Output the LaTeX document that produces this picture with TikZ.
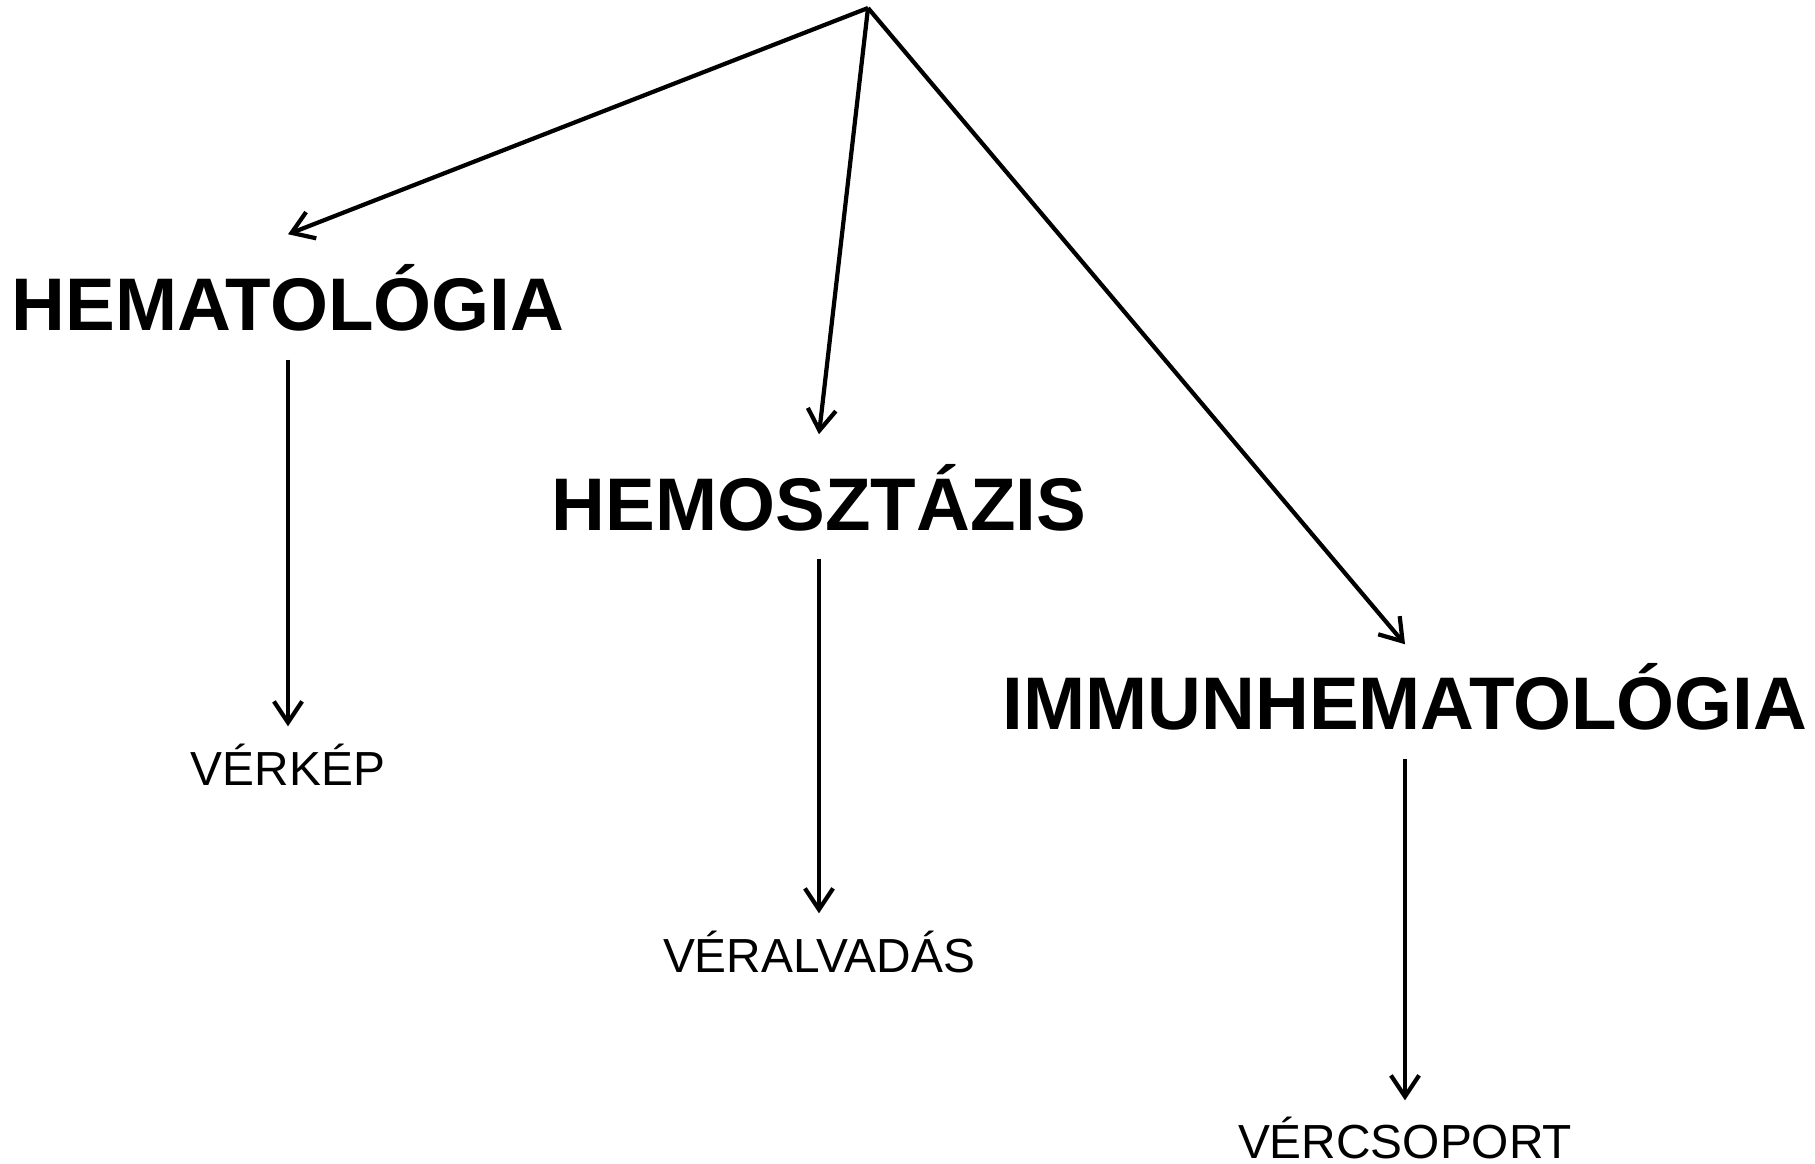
\documentclass[tikz,border=0pt]{standalone}
\usepackage{fontspec}
\setmainfont{Liberation Sans}
\usepackage{tikz}
\usetikzlibrary{positioning,calc,arrows.meta}

\begin{document}
\begin{tikzpicture}[x=0.01cm, y=-0.01cm,
    big/.style={font=\fontsize{21.2}{25}\selectfont\bfseries, inner sep=0, text height=0.52cm, text depth=0, anchor=base},
    small/.style={font=\fontsize{13.6}{16}\selectfont, inner sep=0, text height=0.34cm, text depth=0, anchor=base},
    arr/.style={-{Straight Barb[length=6pt,width=8pt]}, line width=1.2pt}]
      \useasboundingbox (0,0) rectangle (1815,1163);
      \coordinate (top) at (868,8);
      \node (hema) [big] at (288,330) {HEMATOLÓGIA};
      \node (hemo) [big] at (819,530) {HEMOSZTÁZIS};
      \node (immun) [big] at (1405,729) {IMMUNHEMATOLÓGIA};
      \node (verkep) [small] at (288,785) {VÉRKÉP};
      \node (veralv) [small] at (819,972) {VÉRALVADÁS};
      \node (vercs) [small] at (1405,1158) {VÉRCSOPORT};
      \draw[arr] (top) -- ([yshift=0.43cm]hema.north);
      \draw[arr] (top) -- ([yshift=0.43cm]hemo.north);
      \draw[arr] (top) -- ([yshift=0.32cm]immun.north);
      \draw[arr] ([yshift=-0.29cm]hema.south) -- ([yshift=0.24cm]verkep.north);
      \draw[arr] ([yshift=-0.28cm]hemo.south) -- ([yshift=0.24cm]veralv.north);
      \draw[arr] ([yshift=-0.29cm]immun.south) -- ([yshift=0.23cm]vercs.north);
    \end{tikzpicture}
\end{document}
